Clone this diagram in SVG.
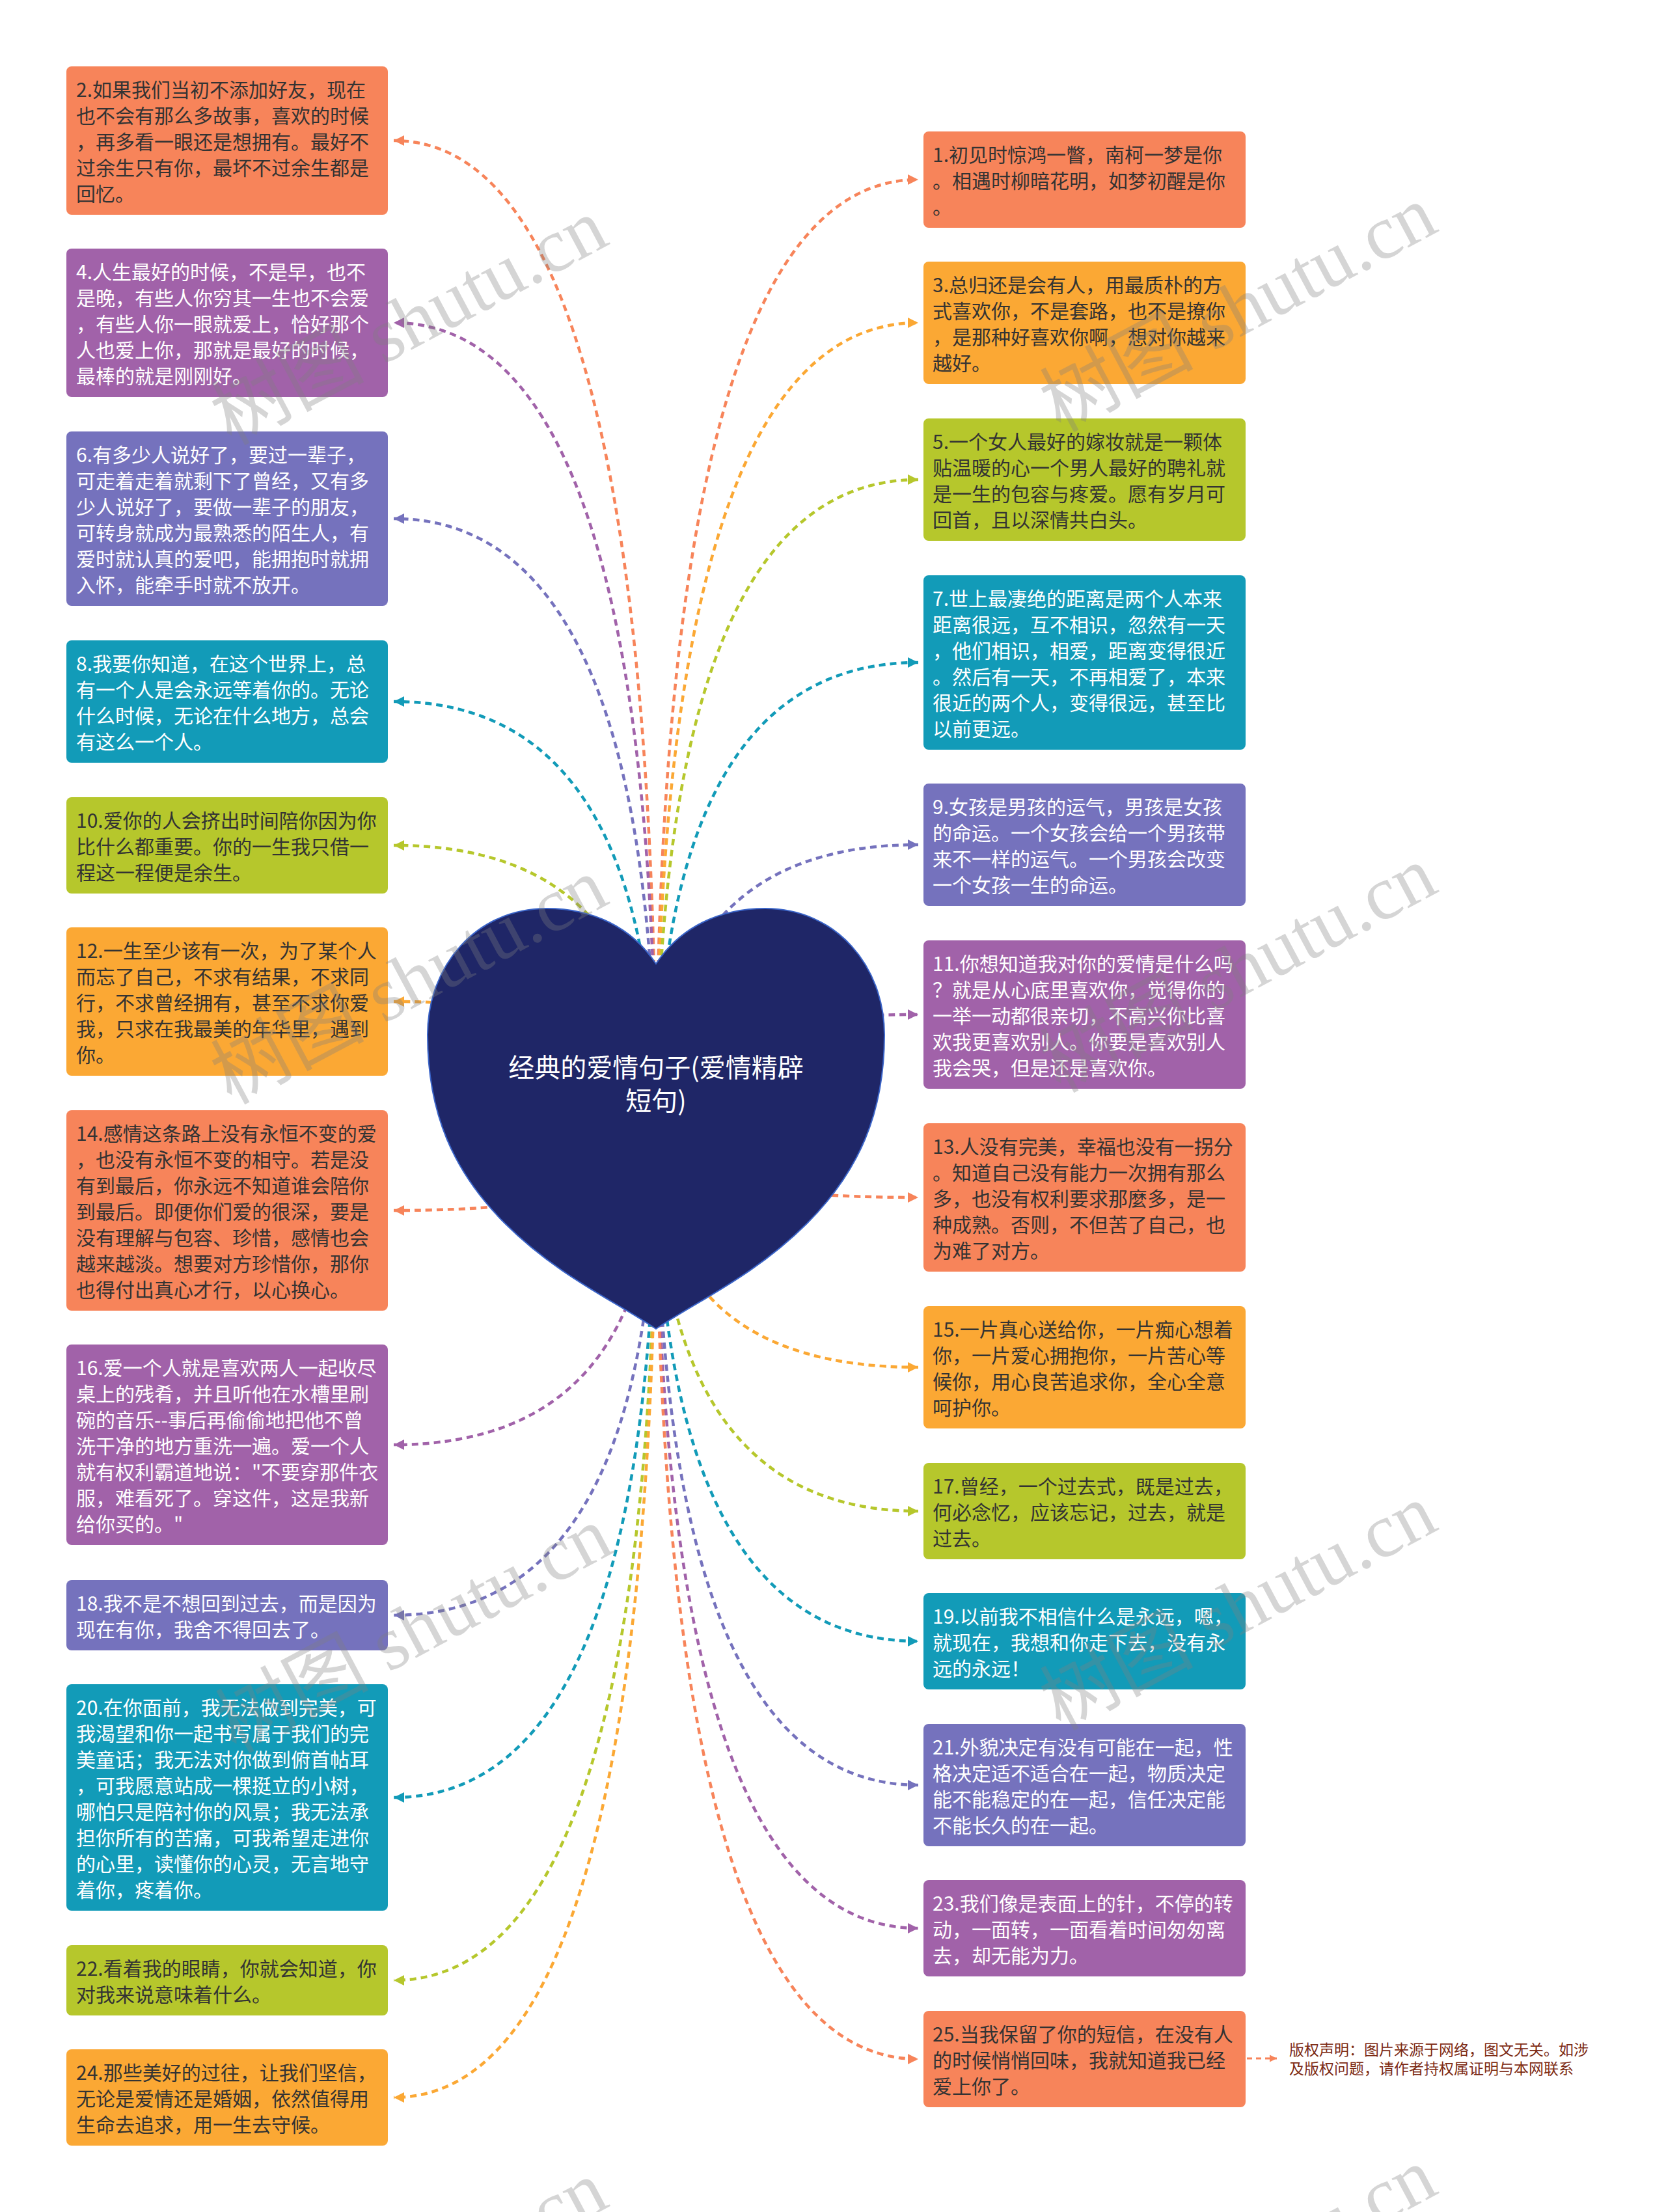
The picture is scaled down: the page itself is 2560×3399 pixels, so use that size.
<svg xmlns="http://www.w3.org/2000/svg" width="2560" height="3399" viewBox="0 0 2560 3399">
<style>
.box{stroke:none}
.or{fill:#f7845a}.oy{fill:#fba834}.yg{fill:#b6c72c}.te{fill:#129bb8}.bp{fill:#7572bd}.pu{fill:#a162a9}
.t{font-family:"Noto Sans CJK SC","Noto Sans",sans-serif;font-size:30px}
.dk{fill:#333333}.wh{fill:#ffffff}
.c{fill:none;stroke-width:4.5;stroke-dasharray:10 7}
.cor{stroke:#f7845a}.coy{stroke:#fba834}.cyg{stroke:#b6c72c}.cte{stroke:#129bb8}.cbp{stroke:#7572bd}.cpu{stroke:#a162a9}
.wm{font-family:"Liberation Serif","Noto Sans CJK SC",serif;font-size:118px;fill:#808080;fill-opacity:0.33}
</style>
<defs>
<marker id="m-or" markerUnits="userSpaceOnUse" markerWidth="17" markerHeight="17" refX="16" refY="8.5" orient="auto"><path d="M0,0.5 L16,8.5 L0,16.5 z" fill="#f7845a"/></marker>
<marker id="m-oy" markerUnits="userSpaceOnUse" markerWidth="17" markerHeight="17" refX="16" refY="8.5" orient="auto"><path d="M0,0.5 L16,8.5 L0,16.5 z" fill="#fba834"/></marker>
<marker id="m-yg" markerUnits="userSpaceOnUse" markerWidth="17" markerHeight="17" refX="16" refY="8.5" orient="auto"><path d="M0,0.5 L16,8.5 L0,16.5 z" fill="#b6c72c"/></marker>
<marker id="m-te" markerUnits="userSpaceOnUse" markerWidth="17" markerHeight="17" refX="16" refY="8.5" orient="auto"><path d="M0,0.5 L16,8.5 L0,16.5 z" fill="#129bb8"/></marker>
<marker id="m-bp" markerUnits="userSpaceOnUse" markerWidth="17" markerHeight="17" refX="16" refY="8.5" orient="auto"><path d="M0,0.5 L16,8.5 L0,16.5 z" fill="#7572bd"/></marker>
<marker id="m-pu" markerUnits="userSpaceOnUse" markerWidth="17" markerHeight="17" refX="16" refY="8.5" orient="auto"><path d="M0,0.5 L16,8.5 L0,16.5 z" fill="#a162a9"/></marker>
<marker id="m-cp" markerUnits="userSpaceOnUse" markerWidth="12" markerHeight="12" refX="11" refY="6" orient="auto"><path d="M0,0.5 L11,6 L0,11.5 z" fill="#f7845a"/></marker>
</defs>
<rect width="2560" height="3399" fill="#ffffff"/>

<g id="connectors">
<path class="c cor" marker-end="url(#m-or)" d="M1008,1740 Q1008,216 605,216"/>
<path class="c cpu" marker-end="url(#m-pu)" d="M1008,1740 Q1008,496 605,496"/>
<path class="c cbp" marker-end="url(#m-bp)" d="M1008,1740 Q1008,797 605,797"/>
<path class="c cte" marker-end="url(#m-te)" d="M1008,1740 Q1008,1078 605,1078"/>
<path class="c cyg" marker-end="url(#m-yg)" d="M1008,1740 Q1008,1299 605,1299"/>
<path class="c coy" marker-end="url(#m-oy)" d="M1008,1740 Q1008,1539 605,1539"/>
<path class="c cor" marker-end="url(#m-or)" d="M1008,1740 Q1008,1860 605,1860"/>
<path class="c cpu" marker-end="url(#m-pu)" d="M1008,1740 Q1008,2220 605,2220"/>
<path class="c cbp" marker-end="url(#m-bp)" d="M1008,1740 Q1008,2482 605,2482"/>
<path class="c cte" marker-end="url(#m-te)" d="M1008,1740 Q1008,2762 605,2762"/>
<path class="c cyg" marker-end="url(#m-yg)" d="M1008,1740 Q1008,3043 605,3043"/>
<path class="c coy" marker-end="url(#m-oy)" d="M1008,1740 Q1008,3223 605,3223"/>
<path class="c cor" marker-end="url(#m-or)" d="M1008,1740 Q1008,276 1411,276"/>
<path class="c coy" marker-end="url(#m-oy)" d="M1008,1740 Q1008,496 1411,496"/>
<path class="c cyg" marker-end="url(#m-yg)" d="M1008,1740 Q1008,737 1411,737"/>
<path class="c cte" marker-end="url(#m-te)" d="M1008,1740 Q1008,1018 1411,1018"/>
<path class="c cbp" marker-end="url(#m-bp)" d="M1008,1740 Q1008,1298 1411,1298"/>
<path class="c cpu" marker-end="url(#m-pu)" d="M1008,1740 Q1008,1559 1411,1559"/>
<path class="c cor" marker-end="url(#m-or)" d="M1008,1740 Q1008,1840 1411,1840"/>
<path class="c coy" marker-end="url(#m-oy)" d="M1008,1740 Q1008,2101 1411,2101"/>
<path class="c cyg" marker-end="url(#m-yg)" d="M1008,1740 Q1008,2322 1411,2322"/>
<path class="c cte" marker-end="url(#m-te)" d="M1008,1740 Q1008,2522 1411,2522"/>
<path class="c cbp" marker-end="url(#m-bp)" d="M1008,1740 Q1008,2743 1411,2743"/>
<path class="c cpu" marker-end="url(#m-pu)" d="M1008,1740 Q1008,2963 1411,2963"/>
<path class="c cor" marker-end="url(#m-or)" d="M1008,1740 Q1008,3164 1411,3164"/>
<path fill="none" stroke="#f7845a" stroke-width="3" stroke-dasharray="8 6" marker-end="url(#m-cp)" d="M1916,3163 L1962,3163"/>
</g>

<g id="root">
<path d="M1008,1481 C1045,1425 1105,1396 1176,1396 C1285,1396 1359,1485 1359,1590 C1359,1710 1320,1800 1240,1880 C1160,1960 1070,2000 1008,2042 C946,2000 856,1960 776,1880 C696,1800 657,1710 657,1590 C657,1485 731,1396 840,1396 C911,1396 971,1425 1008,1481 Z" fill="#1f2667" stroke="#3a64c8" stroke-width="2"/>
<text font-family="'Noto Sans CJK SC','Noto Sans',sans-serif" font-size="40" fill="#ffffff" text-anchor="middle"><tspan x="1008" y="1655">经典的爱情句子(爱情精辟</tspan><tspan x="1008" y="1706">短句)</tspan></text>
</g>

<g id="n2"><rect class="box or" x="102" y="102" width="494" height="228" rx="8"/><text class="t dk"><tspan x="117" y="149">2.如果我们当初不添加好友，现在</tspan><tspan x="117" y="189">也不会有那么多故事，喜欢的时候</tspan><tspan x="117" y="229">，再多看一眼还是想拥有。最好不</tspan><tspan x="117" y="269">过余生只有你，最坏不过余生都是</tspan><tspan x="117" y="309">回忆。</tspan></text></g>
<g id="n4"><rect class="box pu" x="102" y="382" width="494" height="228" rx="8"/><text class="t wh"><tspan x="117" y="429">4.人生最好的时候，不是早，也不</tspan><tspan x="117" y="469">是晚，有些人你穷其一生也不会爱</tspan><tspan x="117" y="509">，有些人你一眼就爱上，恰好那个</tspan><tspan x="117" y="549">人也爱上你，那就是最好的时候，</tspan><tspan x="117" y="589">最棒的就是刚刚好。</tspan></text></g>
<g id="n6"><rect class="box bp" x="102" y="663" width="494" height="268" rx="8"/><text class="t wh"><tspan x="117" y="710">6.有多少人说好了，要过一辈子，</tspan><tspan x="117" y="750">可走着走着就剩下了曾经，又有多</tspan><tspan x="117" y="790">少人说好了，要做一辈子的朋友，</tspan><tspan x="117" y="830">可转身就成为最熟悉的陌生人，有</tspan><tspan x="117" y="870">爱时就认真的爱吧，能拥抱时就拥</tspan><tspan x="117" y="910">入怀，能牵手时就不放开。</tspan></text></g>
<g id="n8"><rect class="box te" x="102" y="984" width="494" height="188" rx="8"/><text class="t wh"><tspan x="117" y="1031">8.我要你知道，在这个世界上，总</tspan><tspan x="117" y="1071">有一个人是会永远等着你的。无论</tspan><tspan x="117" y="1111">什么时候，无论在什么地方，总会</tspan><tspan x="117" y="1151">有这么一个人。</tspan></text></g>
<g id="n10"><rect class="box yg" x="102" y="1225" width="494" height="148" rx="8"/><text class="t dk"><tspan x="117" y="1272">10.爱你的人会挤出时间陪你因为你</tspan><tspan x="117" y="1312">比什么都重要。你的一生我只借一</tspan><tspan x="117" y="1352">程这一程便是余生。</tspan></text></g>
<g id="n12"><rect class="box oy" x="102" y="1425" width="494" height="228" rx="8"/><text class="t dk"><tspan x="117" y="1472">12.一生至少该有一次，为了某个人</tspan><tspan x="117" y="1512">而忘了自己，不求有结果，不求同</tspan><tspan x="117" y="1552">行，不求曾经拥有，甚至不求你爱</tspan><tspan x="117" y="1592">我，只求在我最美的年华里，遇到</tspan><tspan x="117" y="1632">你。</tspan></text></g>
<g id="n14"><rect class="box or" x="102" y="1706" width="494" height="308" rx="8"/><text class="t dk"><tspan x="117" y="1753">14.感情这条路上没有永恒不变的爱</tspan><tspan x="117" y="1793">，也没有永恒不变的相守。若是没</tspan><tspan x="117" y="1833">有到最后，你永远不知道谁会陪你</tspan><tspan x="117" y="1873">到最后。即便你们爱的很深，要是</tspan><tspan x="117" y="1913">没有理解与包容、珍惜，感情也会</tspan><tspan x="117" y="1953">越来越淡。想要对方珍惜你，那你</tspan><tspan x="117" y="1993">也得付出真心才行，以心换心。</tspan></text></g>
<g id="n16"><rect class="box pu" x="102" y="2066" width="494" height="308" rx="8"/><text class="t wh"><tspan x="117" y="2113">16.爱一个人就是喜欢两人一起收尽</tspan><tspan x="117" y="2153">桌上的残肴，并且听他在水槽里刷</tspan><tspan x="117" y="2193">碗的音乐--事后再偷偷地把他不曾</tspan><tspan x="117" y="2233">洗干净的地方重洗一遍。爱一个人</tspan><tspan x="117" y="2273">就有权利霸道地说："不要穿那件衣</tspan><tspan x="117" y="2313">服，难看死了。穿这件，这是我新</tspan><tspan x="117" y="2353">给你买的。"</tspan></text></g>
<g id="n18"><rect class="box bp" x="102" y="2428" width="494" height="108" rx="8"/><text class="t wh"><tspan x="117" y="2475">18.我不是不想回到过去，而是因为</tspan><tspan x="117" y="2515">现在有你，我舍不得回去了。</tspan></text></g>
<g id="n20"><rect class="box te" x="102" y="2588" width="494" height="348" rx="8"/><text class="t wh"><tspan x="117" y="2635">20.在你面前，我无法做到完美，可</tspan><tspan x="117" y="2675">我渴望和你一起书写属于我们的完</tspan><tspan x="117" y="2715">美童话；我无法对你做到俯首帖耳</tspan><tspan x="117" y="2755">，可我愿意站成一棵挺立的小树，</tspan><tspan x="117" y="2795">哪怕只是陪衬你的风景；我无法承</tspan><tspan x="117" y="2835">担你所有的苦痛，可我希望走进你</tspan><tspan x="117" y="2875">的心里，读懂你的心灵，无言地守</tspan><tspan x="117" y="2915">着你，疼着你。</tspan></text></g>
<g id="n22"><rect class="box yg" x="102" y="2989" width="494" height="108" rx="8"/><text class="t dk"><tspan x="117" y="3036">22.看着我的眼睛，你就会知道，你</tspan><tspan x="117" y="3076">对我来说意味着什么。</tspan></text></g>
<g id="n24"><rect class="box oy" x="102" y="3149" width="494" height="148" rx="8"/><text class="t dk"><tspan x="117" y="3196">24.那些美好的过往，让我们坚信，</tspan><tspan x="117" y="3236">无论是爱情还是婚姻，依然值得用</tspan><tspan x="117" y="3276">生命去追求，用一生去守候。</tspan></text></g>

<g id="n1"><rect class="box or" x="1419" y="202" width="495" height="148" rx="8"/><text class="t dk"><tspan x="1433" y="249">1.初见时惊鸿一瞥，南柯一梦是你</tspan><tspan x="1433" y="289">。相遇时柳暗花明，如梦初醒是你</tspan><tspan x="1433" y="329">。</tspan></text></g>
<g id="n3"><rect class="box oy" x="1419" y="402" width="495" height="188" rx="8"/><text class="t dk"><tspan x="1433" y="449">3.总归还是会有人，用最质朴的方</tspan><tspan x="1433" y="489">式喜欢你，不是套路，也不是撩你</tspan><tspan x="1433" y="529">，是那种好喜欢你啊，想对你越来</tspan><tspan x="1433" y="569">越好。</tspan></text></g>
<g id="n5"><rect class="box yg" x="1419" y="643" width="495" height="188" rx="8"/><text class="t dk"><tspan x="1433" y="690">5.一个女人最好的嫁妆就是一颗体</tspan><tspan x="1433" y="730">贴温暖的心一个男人最好的聘礼就</tspan><tspan x="1433" y="770">是一生的包容与疼爱。愿有岁月可</tspan><tspan x="1433" y="810">回首，且以深情共白头。</tspan></text></g>
<g id="n7"><rect class="box te" x="1419" y="884" width="495" height="268" rx="8"/><text class="t wh"><tspan x="1433" y="931">7.世上最凄绝的距离是两个人本来</tspan><tspan x="1433" y="971">距离很远，互不相识，忽然有一天</tspan><tspan x="1433" y="1011">，他们相识，相爱，距离变得很近</tspan><tspan x="1433" y="1051">。然后有一天，不再相爱了，本来</tspan><tspan x="1433" y="1091">很近的两个人，变得很远，甚至比</tspan><tspan x="1433" y="1131">以前更远。</tspan></text></g>
<g id="n9"><rect class="box bp" x="1419" y="1204" width="495" height="188" rx="8"/><text class="t wh"><tspan x="1433" y="1251">9.女孩是男孩的运气，男孩是女孩</tspan><tspan x="1433" y="1291">的命运。一个女孩会给一个男孩带</tspan><tspan x="1433" y="1331">来不一样的运气。一个男孩会改变</tspan><tspan x="1433" y="1371">一个女孩一生的命运。</tspan></text></g>
<g id="n11"><rect class="box pu" x="1419" y="1445" width="495" height="228" rx="8"/><text class="t wh"><tspan x="1433" y="1492">11.你想知道我对你的爱情是什么吗</tspan><tspan x="1433" y="1532">？就是从心底里喜欢你，觉得你的</tspan><tspan x="1433" y="1572">一举一动都很亲切，不高兴你比喜</tspan><tspan x="1433" y="1612">欢我更喜欢别人。你要是喜欢别人</tspan><tspan x="1433" y="1652">我会哭，但是还是喜欢你。</tspan></text></g>
<g id="n13"><rect class="box or" x="1419" y="1726" width="495" height="228" rx="8"/><text class="t dk"><tspan x="1433" y="1773">13.人没有完美，幸福也没有一拐分</tspan><tspan x="1433" y="1813">。知道自己没有能力一次拥有那么</tspan><tspan x="1433" y="1853">多，也没有权利要求那麼多，是一</tspan><tspan x="1433" y="1893">种成熟。否则，不但苦了自己，也</tspan><tspan x="1433" y="1933">为难了对方。</tspan></text></g>
<g id="n15"><rect class="box oy" x="1419" y="2007" width="495" height="188" rx="8"/><text class="t dk"><tspan x="1433" y="2054">15.一片真心送给你，一片痴心想着</tspan><tspan x="1433" y="2094">你，一片爱心拥抱你，一片苦心等</tspan><tspan x="1433" y="2134">候你，用心良苦追求你，全心全意</tspan><tspan x="1433" y="2174">呵护你。</tspan></text></g>
<g id="n17"><rect class="box yg" x="1419" y="2248" width="495" height="148" rx="8"/><text class="t dk"><tspan x="1433" y="2295">17.曾经，一个过去式，既是过去，</tspan><tspan x="1433" y="2335">何必念忆，应该忘记，过去，就是</tspan><tspan x="1433" y="2375">过去。</tspan></text></g>
<g id="n19"><rect class="box te" x="1419" y="2448" width="495" height="148" rx="8"/><text class="t wh"><tspan x="1433" y="2495">19.以前我不相信什么是永远，嗯，</tspan><tspan x="1433" y="2535">就现在，我想和你走下去，没有永</tspan><tspan x="1433" y="2575">远的永远！</tspan></text></g>
<g id="n21"><rect class="box bp" x="1419" y="2649" width="495" height="188" rx="8"/><text class="t wh"><tspan x="1433" y="2696">21.外貌决定有没有可能在一起，性</tspan><tspan x="1433" y="2736">格决定适不适合在一起，物质决定</tspan><tspan x="1433" y="2776">能不能稳定的在一起，信任决定能</tspan><tspan x="1433" y="2816">不能长久的在一起。</tspan></text></g>
<g id="n23"><rect class="box pu" x="1419" y="2889" width="495" height="148" rx="8"/><text class="t wh"><tspan x="1433" y="2936">23.我们像是表面上的针，不停的转</tspan><tspan x="1433" y="2976">动，一面转，一面看着时间匆匆离</tspan><tspan x="1433" y="3016">去，却无能为力。</tspan></text></g>
<g id="n25"><rect class="box or" x="1419" y="3090" width="495" height="148" rx="8"/><text class="t dk"><tspan x="1433" y="3137">25.当我保留了你的短信，在没有人</tspan><tspan x="1433" y="3177">的时候悄悄回味，我就知道我已经</tspan><tspan x="1433" y="3217">爱上你了。</tspan></text></g>

<g id="copyright"><text font-family="'Noto Sans CJK SC','Noto Sans',sans-serif" font-size="23" fill="#7d2b14"><tspan x="1981" y="3158">版权声明：图片来源于网络，图文无关。如涉</tspan><tspan x="1981" y="3187">及版权问题，请作者持权属证明与本网联系</tspan></text></g>

<g id="watermarks">
<text class="wm" transform="translate(355,685) rotate(-28)">树图 shutu.cn</text>
<text class="wm" transform="translate(1629,665) rotate(-28)">树图 shutu.cn</text>
<text class="wm" transform="translate(355,1698) rotate(-28)">树图 shutu.cn</text>
<text class="wm" transform="translate(1629,1680) rotate(-28)">树图 shutu.cn</text>
<text class="wm" transform="translate(362,2695) rotate(-28)">树图 shutu.cn</text>
<text class="wm" transform="translate(1629,2660) rotate(-28)">树图 shutu.cn</text>
<text class="wm" transform="translate(355,3700) rotate(-28)">树图 shutu.cn</text>
<text class="wm" transform="translate(1629,3680) rotate(-28)">树图 shutu.cn</text>
</g>
</svg>
